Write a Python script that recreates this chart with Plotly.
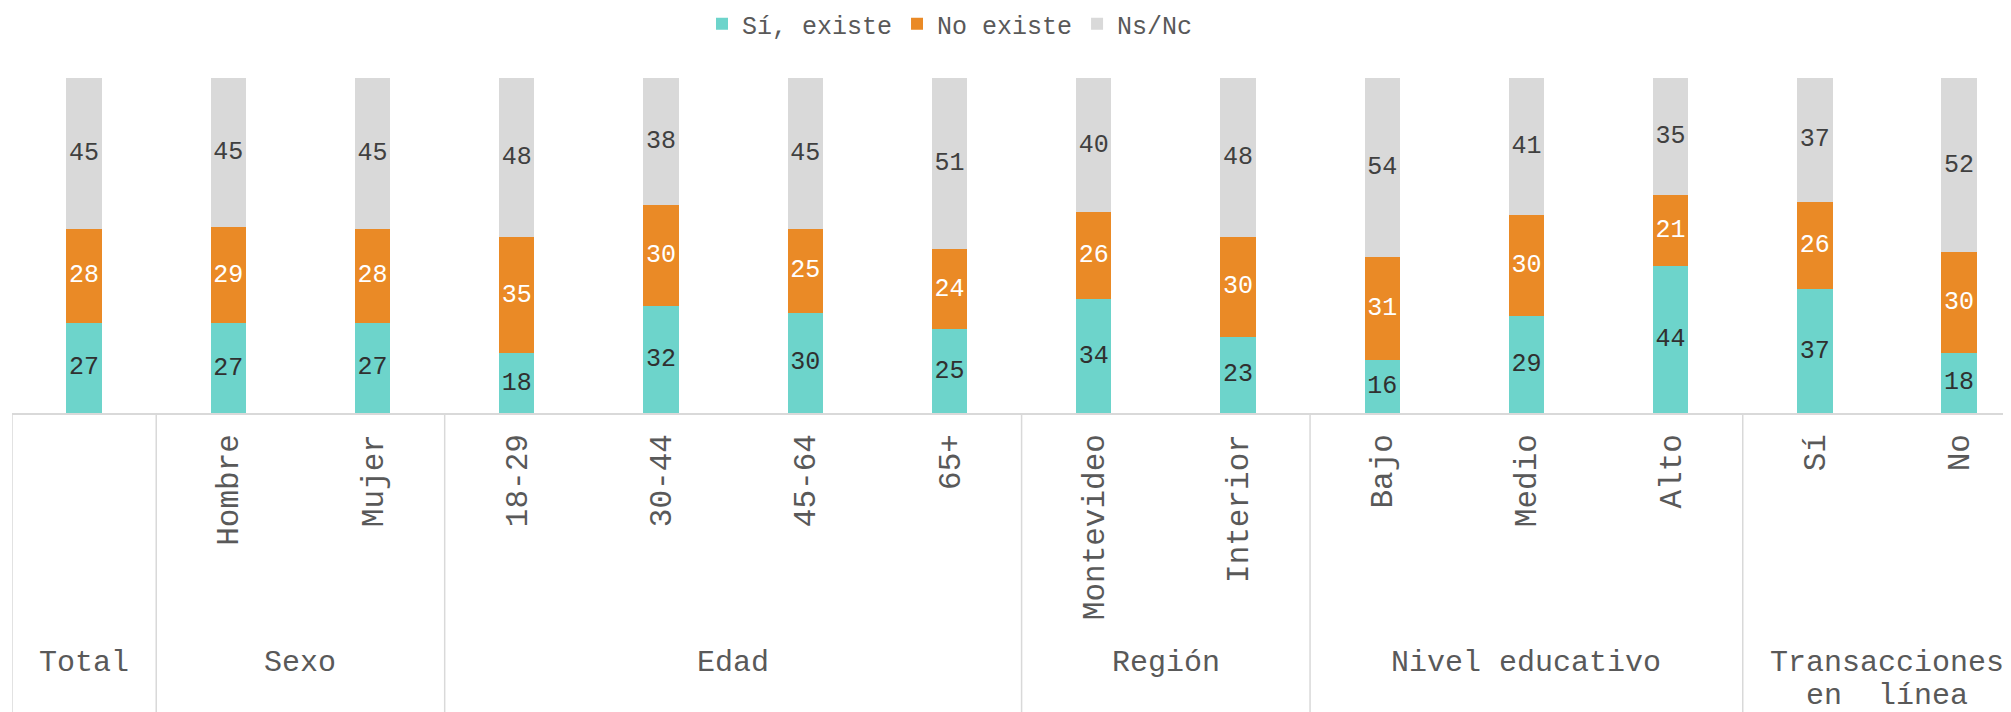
import plotly.graph_objects as go

categories = ["Total", "Hombre", "Mujer", "18-29", "30-44", "45-64", "65+",
              "Montevideo", "Interior", "Bajo", "Medio", "Alto", "Sí", "No"]
tick_labels = ["", "Hombre", "Mujer", "18-29", "30-44", "45-64", "65+",
               "Montevideo", "Interior", "Bajo", "Medio", "Alto", "Sí", "No"]
si_existe = [27, 27, 27, 18, 32, 30, 25, 34, 23, 16, 29, 44, 37, 18]
no_existe = [28, 29, 28, 35, 30, 25, 24, 26, 30, 31, 30, 21, 26, 30]
ns_nc = [45, 45, 45, 48, 38, 45, 51, 40, 48, 54, 41, 35, 37, 52]
groups = ["Total", "Sexo", "Edad", "Región", "Nivel educativo",
          ["Transacciones", "en\u00a0\u00a0línea"]]
group_sizes = [1, 2, 4, 2, 3, 2]

FONT = "Courier New, Liberation Mono, monospace"
TEAL = "#6DD4CB"
ORANGE = "#EA8A26"
GRAY = "#D9D9D9"
TXT = "#595959"

W, H = 2003, 704

fig = go.Figure()
series = [
    ("Sí, existe", si_existe, TEAL, "#303030"),
    ("No existe", no_existe, ORANGE, "#FFFFFF"),
    ("Ns/Nc", ns_nc, GRAY, "#404040"),
]
for name, vals, col, tcol in series:
    fig.add_trace(go.Bar(
        name=name, x=categories, y=vals,
        marker=dict(color=col, line=dict(width=0)),
        text=[str(v) for v in vals], textposition="inside",
        insidetextanchor="middle", textangle=0, constraintext="none",
        textfont=dict(family=FONT, size=25, color=tcol),
        hoverinfo="skip",
    ))

shapes = []
annotations = []
pos = -0.5
shapes.append(dict(type="line", xref="x", yref="paper", x0=pos, x1=pos,
                   y0=0, y1=-0.92, line=dict(color=GRAY, width=1.5)))
for g, n in zip(groups, group_sizes):
    center = pos + n / 2
    lines = g if isinstance(g, list) else [g]
    for i, line in enumerate(lines):
        annotations.append(dict(text=line, xref="x", yref="paper", x=center,
                                y=-0.745 - i * 0.1, xanchor="center",
                                yanchor="middle", showarrow=False,
                                font=dict(family=FONT, size=30, color=TXT)))
    pos += n
    shapes.append(dict(type="line", xref="x", yref="paper", x0=pos, x1=pos,
                       y0=0, y1=-0.92, line=dict(color=GRAY, width=1.5)))

fig.update_layout(
    width=W, height=H,
    margin=dict(l=4, r=0, t=70, b=299, autoexpand=False),
    barmode="stack", barnorm="percent", bargap=0.755,
    plot_bgcolor="white", paper_bgcolor="white",
    showlegend=True,
    legend=dict(orientation="h", xref="container", yref="container",
                x=694 / W, y=1 - 16 / H, xanchor="left", yanchor="middle",
                font=dict(family=FONT, size=25, color=TXT), traceorder="normal"),
    xaxis=dict(type="category", range=[-0.5, 13.36], tickmode="array",
               tickvals=categories, ticktext=tick_labels, tickangle=-90,
               tickfont=dict(family=FONT, size=31, color=TXT),
               showline=True, linecolor=GRAY, linewidth=1.5, ticks="",
               ticklabelstandoff=7, showgrid=False, zeroline=False,
               automargin=False),
    yaxis=dict(range=[0, 100], visible=False, showgrid=False, automargin=False),
    shapes=shapes, annotations=annotations,
)

fig.write_html("out.html")
